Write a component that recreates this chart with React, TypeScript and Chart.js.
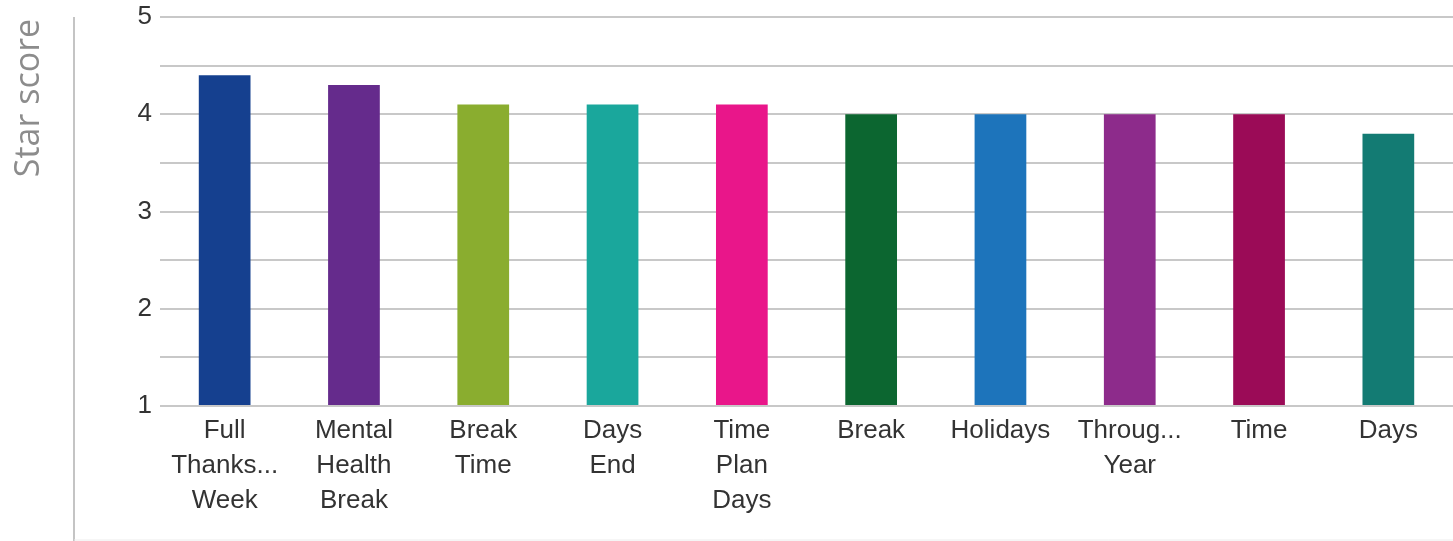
import React, { useEffect, useRef } from "react";
import { Chart, registerables } from "chart.js";

Chart.register(...registerables);

const categories: (string | string[])[] = [
  ["Full", "Thanks...", "Week"],
  ["Mental", "Health", "Break"],
  ["Break", "Time"],
  ["Days", "End"],
  ["Time", "Plan", "Days"],
  "Break",
  "Holidays",
  ["Throug...", "Year"],
  "Time",
  "Days",
];

const starScores = [4.4, 4.3, 4.1, 4.1, 4.1, 4.0, 4.0, 4.0, 4.0, 3.8];

const barColors = [
  "#15408f",
  "#652b8c",
  "#8aad2f",
  "#1aa79c",
  "#e9168a",
  "#0c6630",
  "#1d74bb",
  "#8d2b8b",
  "#9b0b57",
  "#137b73",
];

const yTickLabels = ["1", "2", "3", "4", "5"];
const yTitle = "Star score";

const decorPlugin = {
  id: "decor",
  afterDraw(chart: any) {
    const ctx = chart.ctx;
    ctx.save();
    // left border line
    ctx.strokeStyle = "#c4c4c4";
    ctx.lineWidth = 2;
    ctx.beginPath();
    ctx.moveTo(74, 17);
    ctx.lineTo(74, 541);
    ctx.stroke();
    // bottom faint line
    ctx.strokeStyle = "#ececec";
    ctx.lineWidth = 1;
    ctx.beginPath();
    ctx.moveTo(74, 540);
    ctx.lineTo(1453, 540);
    ctx.stroke();
    // y title
    ctx.translate(29, 98);
    ctx.rotate(-Math.PI / 2);
    ctx.fillStyle = "#8c8c8c";
    ctx.font = "34px 'Open Sans'";
    ctx.textAlign = "center";
    ctx.textBaseline = "middle";
    ctx.fillText(yTitle, 0, 0);
    ctx.restore();
  },
};

export default function App() {
  const ref = useRef<HTMLCanvasElement | null>(null);

  useEffect(() => {
    document.body.style.margin = "0";
    const canvas = ref.current;
    if (!canvas) return;
    const chart = new Chart(canvas, {
      type: "bar",
      data: {
        labels: categories,
        datasets: [
          {
            data: starScores,
            backgroundColor: barColors,
            borderWidth: 0,
            barPercentage: 0.4,
            categoryPercentage: 1,
            base: 1,
          },
        ],
      },
      options: {
        animation: false,
        responsive: false,
        devicePixelRatio: 1,
        layout: { padding: { top: 17, left: 0, right: 0, bottom: 0 } },
        plugins: {
          legend: { display: false },
          tooltip: { enabled: false },
        },
        scales: {
          x: {
            grid: { display: false },
            border: { display: false },
            ticks: {
              color: "#333333",
              font: { family: "'Liberation Sans', Arial", size: 26, lineHeight: 1.35 },
              padding: -1,
              maxRotation: 0,
              autoSkip: false,
            },
            afterFit(scale: any) {
              scale.height = 135;
              scale.paddingLeft = 0;
              scale.paddingRight = 0;
            },
          },
          y: {
            min: 1,
            max: 5,
            grid: {
              color: "#c8c8c8",
              lineWidth: 2,
              drawTicks: false,
            },
            border: { display: false },
            ticks: {
              stepSize: 0.5,
              color: "#333333",
              font: { family: "'Liberation Sans', Arial", size: 26 },
              padding: 8,
              callback: (v: any) => {
                const n = Number(v);
                if (Number.isInteger(n)) {
                  const lbl = yTickLabels.find((t) => Number(t) === n);
                  return lbl ?? "";
                }
                return "";
              },
            },
            afterFit(scale: any) {
              scale.width = 160;
              scale.paddingTop = 0;
              scale.paddingBottom = 0;
            },
          },
        },
      },
      plugins: [decorPlugin],
    });
    return () => chart.destroy();
  }, []);

  return (
    <div style={{ position: "fixed", left: 0, top: 0, width: 1453, height: 541, background: "#fff" }}>
      <canvas ref={ref} width={1453} height={541} style={{ width: 1453, height: 541 }} />
    </div>
  );
}
